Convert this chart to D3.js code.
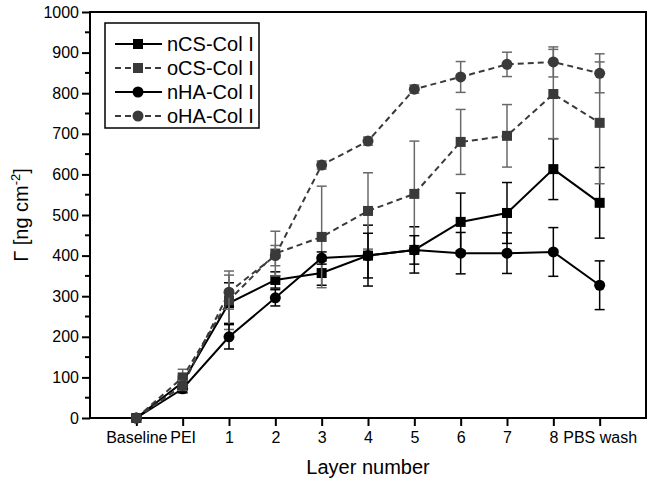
<!DOCTYPE html>
<html><head><meta charset="utf-8">
<script src="https://cdn.jsdelivr.net/npm/d3@7"></script>
<style>body{margin:0;background:#fff;} svg{display:block;font-family:"Liberation Sans",Arial,sans-serif;}</style>
</head><body>
<script>
const categories = ["Baseline","PEI","1","2","3","4","5","6","7","8","PBS wash"];
const nCS    = [0, 88, 283, 340, 357, 400, 414, 483, 505, 613, 530];
const nCSErr = [0, 15, 50, 20, 30, 75, 57, 71, 75, 75, 87];
const oCS    = [0, 100, 290, 405, 446, 510, 552, 680, 695, 798, 727];
const oCSErr = [0, 20, 72, 55, 125, 94, 130, 80, 77, 110, 150];
const nHA    = [0, 72, 200, 296, 394, 400, 414, 406, 406, 409, 327];
const nHAErr = [0, 10, 30, 20, 15, 55, 35, 51, 50, 60, 60];
const oHA    = [0, 80, 310, 400, 623, 682, 810, 840, 871, 877, 849];
const oHAErr = [0, 12, 42, 25, 10, 10, 10, 38, 30, 37, 48];
const yTicks = [0,100,200,300,400,500,600,700,800,900,1000];

const series = [
  {name:"nCS-Col I", v:nCS, e:nCSErr, shape:"square", fill:"#000", line:"#000", dash:null, err:"#000"},
  {name:"oCS-Col I", v:oCS, e:oCSErr, shape:"square", fill:"#3a3a3a", line:"#3a3a3a", dash:"6,4", err:"#6a6a6a"},
  {name:"nHA-Col I", v:nHA, e:nHAErr, shape:"circle", fill:"#000", line:"#000", dash:null, err:"#000"},
  {name:"oHA-Col I", v:oHA, e:oHAErr, shape:"circle", fill:"#3a3a3a", line:"#3a3a3a", dash:"6,4", err:"#6a6a6a"}
];

const W=649,H=486, L=90, R=646, T=12, B=418;
const svg=d3.select("body").append("svg").attr("width",W).attr("height",H);
const x=d3.scaleLinear().domain([-1,categories.length]).range([L,R]);
const y=d3.scaleLinear().domain([0,1000]).range([B,T]);

// frame
svg.append("rect").attr("x",L).attr("y",T).attr("width",R-L).attr("height",B-T)
  .attr("fill","none").attr("stroke","#000").attr("stroke-width",2);

// y axis
const ya=svg.append("g").attr("transform",`translate(${L},0)`)
  .call(d3.axisLeft(y).tickValues(yTicks).tickSize(8).tickPadding(3).tickFormat(d3.format("d")));
ya.select(".domain").remove();
ya.selectAll("line").attr("stroke-width",2);
ya.selectAll("text").attr("font-size",16).attr("fill","#000");
const yminor=d3.range(50,1000,100);
svg.append("g").selectAll("line").data(yminor).join("line")
  .attr("x1",L-5).attr("x2",L).attr("y1",d=>y(d)).attr("y2",d=>y(d)).attr("stroke","#000").attr("stroke-width",2);

// x axis
const xa=svg.append("g").attr("transform",`translate(0,${B})`)
  .call(d3.axisBottom(x).tickValues(d3.range(categories.length)).tickSize(8).tickPadding(6).tickFormat(i=>categories[i]));
xa.select(".domain").remove();
xa.selectAll("line").attr("stroke-width",2);
xa.selectAll("text").attr("font-size",16).attr("fill","#000");

// titles
svg.append("text").attr("x",(L+R)/2).attr("y",474).attr("text-anchor","middle").attr("font-size",20).text("Layer number");
const yt=svg.append("text").attr("transform",`translate(28,${(T+B)/2}) rotate(-90)`).attr("text-anchor","middle").attr("font-size",20);
yt.append("tspan").text("Γ [ng cm");
yt.append("tspan").attr("dy",-8).attr("font-size",13).text("-2");
yt.append("tspan").attr("dy",8).text("]");

const line=d3.line().x((d,i)=>x(i)).y(d=>y(d));
const idx=d3.range(categories.length);

function marker(g, shape, cx, cy, fill){
  if(shape==="square") g.append("rect").attr("x",cx-5).attr("y",cy-5).attr("width",10).attr("height",10).attr("fill",fill);
  else g.append("circle").attr("cx",cx).attr("cy",cy).attr("r",5.5).attr("fill",fill);
}

series.forEach(s=>{
  const g=svg.append("g");
  // error bars
  idx.forEach(i=>{
    if(!s.e[i]) return;
    const eg=g.append("g").attr("stroke",s.err).attr("stroke-width",1.5);
    eg.append("line").attr("x1",x(i)).attr("x2",x(i)).attr("y1",y(s.v[i]-s.e[i])).attr("y2",y(s.v[i]+s.e[i]));
    [s.v[i]-s.e[i], s.v[i]+s.e[i]].forEach(v=>{
      eg.append("line").attr("x1",x(i)-5).attr("x2",x(i)+5).attr("y1",y(v)).attr("y2",y(v));
    });
  });
  g.append("path").datum(s.v).attr("d",line).attr("fill","none").attr("stroke",s.line)
    .attr("stroke-width",2).attr("stroke-dasharray",s.dash);
  idx.forEach(i=>marker(g,s.shape,x(i),y(s.v[i]),s.fill));
});

// legend
const lg=svg.append("g");
lg.append("rect").attr("x",105).attr("y",23).attr("width",154).attr("height",105).attr("fill","#fff").attr("stroke","#000").attr("stroke-width",1.5);
series.forEach((s,k)=>{
  const yy=44+k*24;
  lg.append("line").attr("x1",115).attr("x2",162).attr("y1",yy).attr("y2",yy).attr("stroke",s.line).attr("stroke-width",2).attr("stroke-dasharray",s.dash);
  marker(lg,s.shape,138,yy,s.fill);
  lg.append("text").attr("x",167).attr("y",yy+7).attr("font-size",20).text(s.name);
});
</script>
</body></html>
